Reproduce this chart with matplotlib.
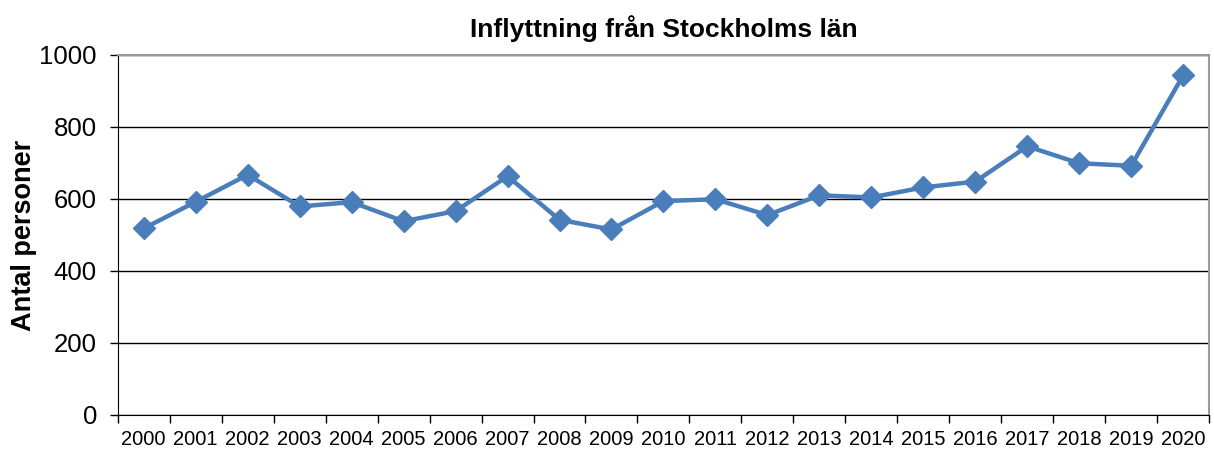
import matplotlib.pyplot as plt
import numpy as np

# Inflyttning från Stockholms län, antal personer per år
years = [str(y) for y in range(2000, 2021)]
persons = [518, 592, 667, 579, 591, 538, 566, 663, 542, 515,
           594, 599, 555, 610, 604, 632, 648, 746, 699, 692, 943]

plt.rcParams['font.family'] = ['Liberation Sans', 'DejaVu Sans']

fig = plt.figure(figsize=(12.14, 4.5), dpi=100)
ax = fig.add_axes([0.097, 0.078, 0.899, 0.8])

x = np.arange(len(years))
ax.plot(x, persons, color='#4A7EBB', linewidth=3.2, marker='D',
        markersize=11, zorder=3)

ax.set_xlim(-0.5, len(years) - 0.5)
ax.set_ylim(0, 1000)
ax.set_yticks(np.arange(0, 1001, 200))
ax.tick_params(axis='y', labelsize=18.5, length=6, width=1, direction='out', pad=9)

# category labels centred, tick marks between categories (Excel style)
ax.set_xticks(x)
ax.set_xticklabels(years, fontsize=14.5)
ax.set_xticks(np.arange(-0.5, len(years), 1), minor=True)
ax.tick_params(axis='x', which='major', length=0, pad=11)
ax.tick_params(axis='x', which='minor', length=6, width=1, direction='out')

ax.yaxis.grid(True, color='black', linewidth=1)
ax.set_axisbelow(True)

ax.spines['left'].set_color('black')
ax.spines['bottom'].set_color('black')
ax.spines['top'].set_color('#999999')
ax.spines['right'].set_color('#999999')
ax.spines['top'].set_linewidth(1.5)
ax.spines['right'].set_linewidth(1.5)

ax.set_ylabel('Antal personer', fontsize=19.5, fontweight='bold', labelpad=2)
ax.set_title('Inflyttning från Stockholms län', fontsize=19, fontweight='bold', pad=13)

fig.savefig('out.png', dpi=100)
